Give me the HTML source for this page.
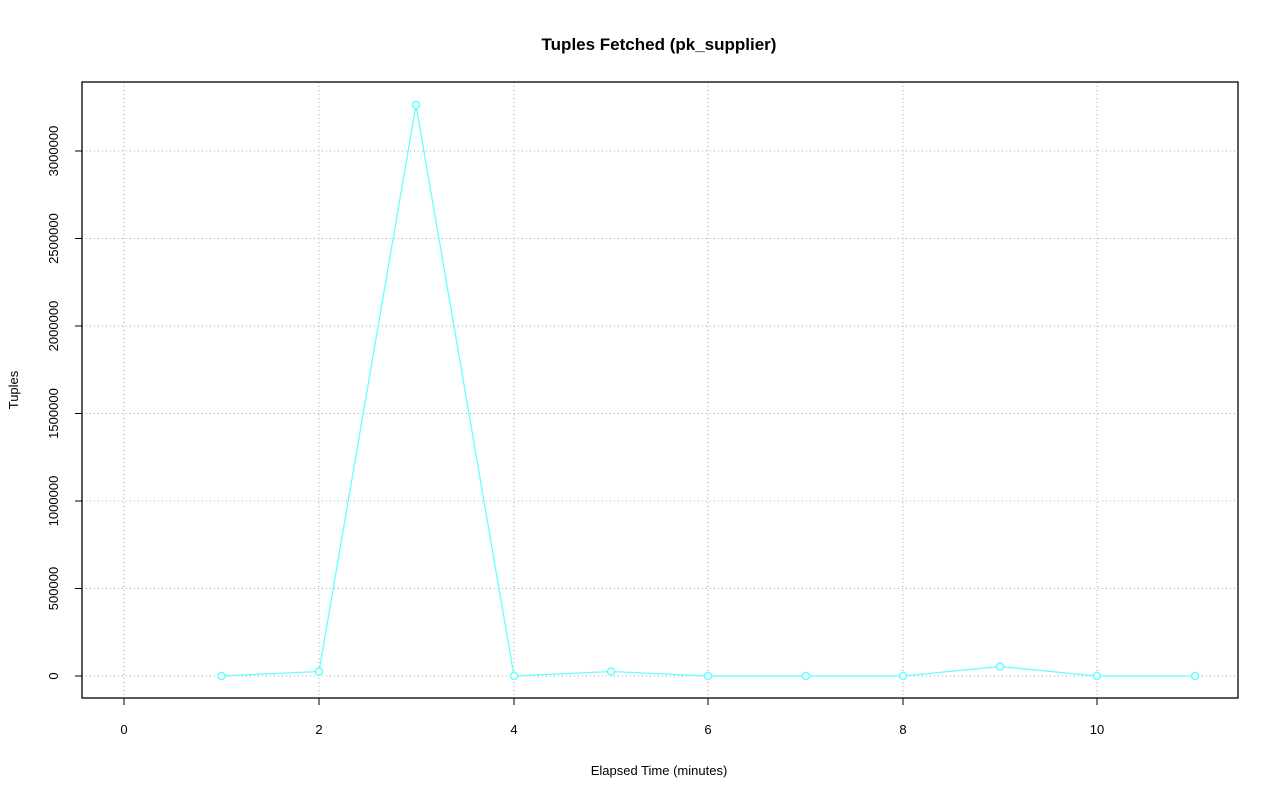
<!DOCTYPE html>
<html><head><meta charset="utf-8"><style>body{margin:0;background:#fff}svg{display:block}</style></head><body>
<svg width="1280" height="801" xmlns="http://www.w3.org/2000/svg" font-family="Liberation Sans, sans-serif">
<rect width="1280" height="801" fill="#fff"/>
<text x="659" y="50" text-anchor="middle" font-size="17" font-weight="bold">Tuples Fetched (pk_supplier)</text>
<g stroke="#aaa" stroke-dasharray="1,3" stroke-width="1">
<line x1="124" y1="82" x2="124" y2="698"/><line x1="319" y1="82" x2="319" y2="698"/><line x1="514" y1="82" x2="514" y2="698"/><line x1="708" y1="82" x2="708" y2="698"/><line x1="903" y1="82" x2="903" y2="698"/><line x1="1097" y1="82" x2="1097" y2="698"/>
<line x1="82" y1="676" x2="1238" y2="676"/><line x1="82" y1="588.5" x2="1238" y2="588.5"/><line x1="82" y1="501" x2="1238" y2="501"/><line x1="82" y1="413.5" x2="1238" y2="413.5"/><line x1="82" y1="326" x2="1238" y2="326"/><line x1="82" y1="238.5" x2="1238" y2="238.5"/><line x1="82" y1="151" x2="1238" y2="151"/>
</g>
<rect x="82" y="82" width="1156" height="616" fill="none" stroke="#000" stroke-width="1.3"/>
<polyline fill="none" stroke="#66ffff" stroke-width="1.3" points="221.5,676 319,671.5 416,105 514,676 611,671.5 708,676 806,676 903,676 1000,666.5 1097,676 1195,676"/>
<g fill="#fff" stroke="#66ffff" stroke-width="1.5">
<circle cx="221.5" cy="676" r="3.5"/><circle cx="319" cy="671.5" r="3.5"/><circle cx="416" cy="105" r="3.5"/><circle cx="514" cy="676" r="3.5"/><circle cx="611" cy="671.5" r="3.5"/><circle cx="708" cy="676" r="3.5"/><circle cx="806" cy="676" r="3.5"/><circle cx="903" cy="676" r="3.5"/><circle cx="1000" cy="666.5" r="3.5"/><circle cx="1097" cy="676" r="3.5"/><circle cx="1195" cy="676" r="3.5"/>
</g>
<g stroke="#000" stroke-width="1">
<line x1="124" y1="698" x2="1097" y2="698"/>
<line x1="124" y1="698" x2="124" y2="705"/><line x1="319" y1="698" x2="319" y2="705"/><line x1="514" y1="698" x2="514" y2="705"/><line x1="708" y1="698" x2="708" y2="705"/><line x1="903" y1="698" x2="903" y2="705"/><line x1="1097" y1="698" x2="1097" y2="705"/>
<line x1="82" y1="151" x2="82" y2="676"/>
<line x1="75" y1="676" x2="82" y2="676"/><line x1="75" y1="588.5" x2="82" y2="588.5"/><line x1="75" y1="501" x2="82" y2="501"/><line x1="75" y1="413.5" x2="82" y2="413.5"/><line x1="75" y1="326" x2="82" y2="326"/><line x1="75" y1="238.5" x2="82" y2="238.5"/><line x1="75" y1="151" x2="82" y2="151"/>
</g>
<g font-size="13" text-anchor="middle">
<text x="124" y="734">0</text><text x="319" y="734">2</text><text x="514" y="734">4</text><text x="708" y="734">6</text><text x="903" y="734">8</text><text x="1097" y="734">10</text>
<text x="659" y="775">Elapsed Time (minutes)</text>
<g transform="translate(58,0)">
<text transform="translate(0,676) rotate(-90)">0</text>
<text transform="translate(0,588.5) rotate(-90)">500000</text>
<text transform="translate(0,501) rotate(-90)">1000000</text>
<text transform="translate(0,413.5) rotate(-90)">1500000</text>
<text transform="translate(0,326) rotate(-90)">2000000</text>
<text transform="translate(0,238.5) rotate(-90)">2500000</text>
<text transform="translate(0,151) rotate(-90)">3000000</text>
</g>
<text transform="translate(18,390) rotate(-90)">Tuples</text>
</g>
</svg>
</body></html>
